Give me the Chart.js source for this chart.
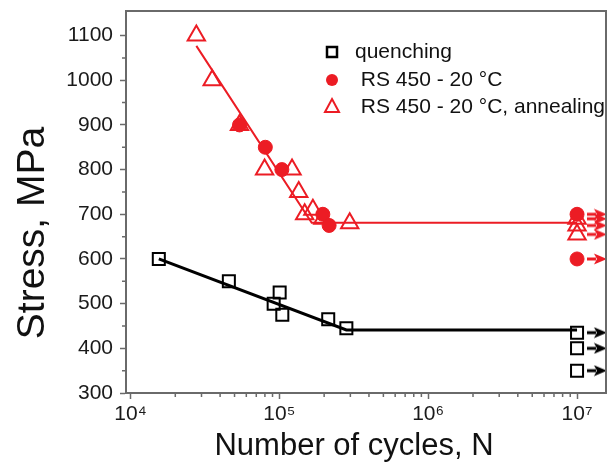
<!DOCTYPE html>
<html>
<head>
<meta charset="utf-8">
<title>S-N curves</title>
<script src="https://cdn.jsdelivr.net/npm/chart.js@4.4.1/dist/chart.umd.min.js"></script>
<style>
  body { margin: 0; background: #fff; }
  canvas { display: block; }
</style>
</head>
<body>
<canvas id="chart" width="611" height="463"></canvas>
<script>
// data (N in cycles, stress in MPa)
const quenchN = [15500, 45800, 91600, 100500, 104700, 213000, 282000];
const quenchS = [600, 550, 500, 525, 475, 465, 445];
const quenchRunoutS = [435, 400, 350];

const rsN = [54000, 80500, 104000, 196000, 216000];
const rsS = [900, 850, 800, 700, 675];
const rsRunoutS = [700, 600];

const annN = [27700, 35400, 54000, 79600, 121700, 135000, 148000, 168000, 196000, 297000];
const annS = [1100, 1000, 900, 800, 800, 750, 700, 710, 690, 680];
const annRunoutS = [690, 675, 655];

const runoutN = 1e7;

// fitted curves
const fitQuenchN = [15500, 282000, 1e7];
const fitQuenchS = [600, 441, 441];
const fitRsN = [27700, 165000, 1e7];
const fitRsS = [1077, 681, 681];

// axes
const xTickValues = [1e4, 1e5, 1e6, 1e7];
const xTickLabels = ['10⁴', '10⁵', '10⁶', '10⁷'];
const yTickValues = [300, 400, 500, 600, 700, 800, 900, 1000, 1100];

const RED = '#ec1c24';
const AXIS = '#6a6a6a';
const FONT = "'Liberation Sans', Arial, sans-serif";

function pts(xs, ys) {
    return xs.map((x, i) => ({ x: x, y: ys[i] }));
}
function runouts(ys) {
    return ys.map(y => ({ x: runoutN, y: y }));
}

// small arrow used as point style for run-outs
function makeArrow(color) {
    var c = document.createElement('canvas');
    c.width = 20; c.height = 12;
    var g = c.getContext('2d');
    g.strokeStyle = color;
    g.fillStyle = color;
    g.lineWidth = 3;
    g.beginPath(); g.moveTo(0, 6); g.lineTo(9, 6); g.stroke();
    g.beginPath(); g.moveTo(7, 0.5); g.lineTo(20, 6); g.lineTo(7, 11.5); g.lineTo(10, 6); g.closePath(); g.fill();
    return c;
}
const arrowN = 1.36e7;

function noPadding(s) {
    s.paddingTop = 0; s.paddingBottom = 0; s.paddingLeft = 0; s.paddingRight = 0;
}

// frame, minor ticks, axis titles and legend
const extras = {
    id: 'extras',
    afterDraw(chart) {
        const ctx = chart.ctx;
        const a = chart.chartArea;
        const xs = chart.scales.x, ys = chart.scales.y;
        ctx.save();
        ctx.strokeStyle = AXIS;
        ctx.lineWidth = 2;
        ctx.beginPath();
        ctx.moveTo(a.left, a.top); ctx.lineTo(a.right, a.top); ctx.lineTo(a.right, a.bottom);
        ctx.stroke();

        // minor ticks
        ctx.lineWidth = 1.5;
        ctx.beginPath();
        for (var v = 350; v < 1150; v += 100) {
            var py = ys.getPixelForValue(v);
            ctx.moveTo(a.left, py); ctx.lineTo(a.left - 4, py);
        }
        [1e4, 1e5, 1e6].forEach(d => {
            for (var k = 2; k <= 9; k++) {
                var px = xs.getPixelForValue(k * d);
                ctx.moveTo(px, a.bottom); ctx.lineTo(px, a.bottom + 4);
            }
        });
        ctx.stroke();

        // axis titles
        ctx.fillStyle = '#111';
        ctx.textAlign = 'center';
        ctx.font = '31px ' + FONT;
        ctx.textBaseline = 'alphabetic';
        ctx.fillText('Number of cycles, N', 354, 455);

        ctx.save();
        ctx.translate(33, 233);
        ctx.rotate(-Math.PI / 2);
        ctx.font = '39px ' + FONT;
        ctx.textBaseline = 'middle';
        ctx.fillText('Stress, MPa', 0, 0);
        ctx.restore();

        // legend
        const lx = 332, tx = 355, rows = [52, 80, 107];
        ctx.textAlign = 'left';
        ctx.font = '21px ' + FONT;
        ctx.fillStyle = '#111';
        ctx.textBaseline = 'middle';
        ctx.fillText('quenching', tx, rows[0]);
        ctx.fillText(' RS 450 - 20 °C', tx, rows[1]);
        ctx.fillText(' RS 450 - 20 °C, annealing', tx, rows[2]);

        ctx.lineWidth = 2.5;
        ctx.strokeStyle = '#000';
        ctx.strokeRect(lx - 5, rows[0] - 5, 10, 10);
        ctx.fillStyle = RED;
        ctx.beginPath(); ctx.arc(lx, rows[1], 6, 0, Math.PI * 2); ctx.fill();
        ctx.strokeStyle = RED;
        ctx.lineWidth = 2;
        ctx.beginPath();
        ctx.moveTo(lx, rows[2] - 8); ctx.lineTo(lx + 7, rows[2] + 5); ctx.lineTo(lx - 7, rows[2] + 5);
        ctx.closePath(); ctx.stroke();
        ctx.restore();
    }
};

const ctx = document.getElementById('chart').getContext('2d');
const chart = new Chart(ctx, {
    type: 'scatter',
    data: {
        datasets: [
            {
                label: 'quenching',
                data: pts(quenchN, quenchS).concat(runouts(quenchRunoutS)),
                pointStyle: 'rect',
                pointRadius: 8.5,
                borderWidth: 2,
                borderColor: '#000',
                backgroundColor: 'rgba(0,0,0,0)',
                order: 1
            },
            {
                label: 'RS 450 - 20 °C',
                data: pts(rsN, rsS).concat(runouts(rsRunoutS)),
                pointStyle: 'circle',
                pointRadius: 7,
                borderWidth: 1,
                borderColor: RED,
                backgroundColor: RED,
                order: 1
            },
            {
                label: 'RS 450 - 20 °C, annealing',
                data: pts(annN, annS).concat(runouts(annRunoutS)),
                pointStyle: 'triangle',
                pointRadius: 10,
                borderWidth: 2,
                borderColor: RED,
                backgroundColor: 'rgba(0,0,0,0)',
                order: 1
            },
            {
                label: 'fit quenching',
                data: pts(fitQuenchN, fitQuenchS),
                showLine: true,
                pointRadius: 0,
                borderColor: '#000',
                borderWidth: 3,
                order: 2
            },
            {
                label: 'fit RS',
                data: pts(fitRsN, fitRsS),
                showLine: true,
                pointRadius: 0,
                borderColor: RED,
                borderWidth: 2,
                order: 2
            },
            {
                label: 'run-out quenching',
                data: quenchRunoutS.map(y => ({ x: arrowN, y: y })),
                pointStyle: makeArrow('#000'),
                clip: false
            },
            {
                label: 'run-out RS',
                data: rsRunoutS.concat(annRunoutS).map(y => ({ x: arrowN, y: y })),
                pointStyle: makeArrow(RED),
                clip: false
            }
        ]
    },
    options: {
        responsive: false,
        animation: false,
        layout: { autoPadding: false, padding: { left: 0, top: 11, right: 5, bottom: 0 } },
        plugins: {
            legend: { display: false },
            tooltip: { enabled: false }
        },
        scales: {
            x: {
                type: 'logarithmic',
                min: 9330,
                max: 1.565e7,
                afterBuildTicks: s => { s.ticks = xTickValues.map(v => ({ value: v })); },
                afterFit: s => { s.height = 70; noPadding(s); },
                border: { color: AXIS, width: 2 },
                grid: { drawOnChartArea: false, tickLength: 6, tickWidth: 1.5, tickColor: AXIS },
                ticks: {
                    autoSkip: false,
                    maxRotation: 0,
                    padding: 3,
                    color: '#1a1a1a',
                    font: { family: FONT, size: 21 },
                    callback: (v, i) => xTickLabels[i]
                }
            },
            y: {
                min: 300,
                max: 1155,
                afterBuildTicks: s => { s.ticks = yTickValues.map(v => ({ value: v })); },
                afterFit: s => { s.width = 126; noPadding(s); },
                border: { color: AXIS, width: 2 },
                grid: { drawOnChartArea: false, tickLength: 6, tickWidth: 1.5, tickColor: AXIS },
                ticks: {
                    padding: 7,
                    color: '#1a1a1a',
                    font: { family: FONT, size: 21 },
                    callback: v => String(v)
                }
            }
        }
    },
    plugins: [extras]
});
</script>
</body>
</html>
